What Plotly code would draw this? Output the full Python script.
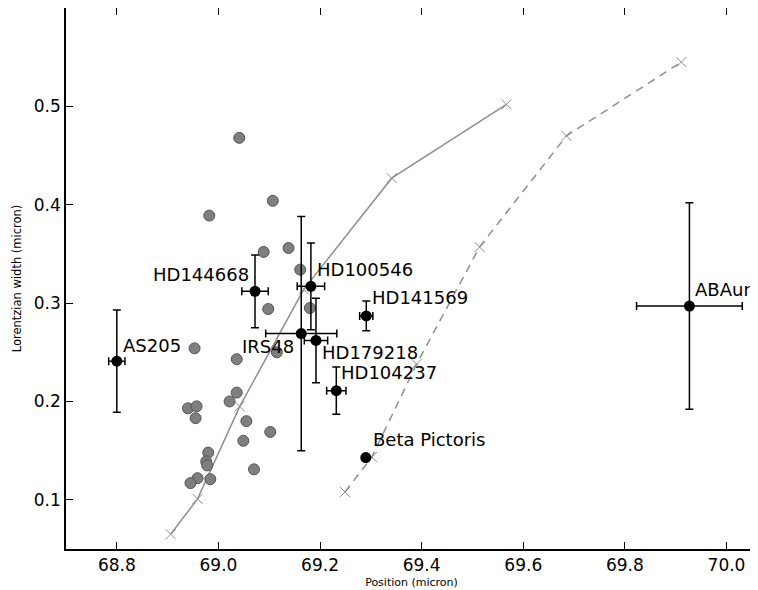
import plotly.graph_objects as go

# Grey comparison sample
grey_x = [69.041, 69.107, 68.982, 69.089, 69.138, 69.161, 69.098, 69.180, 68.953, 69.036,
          69.115, 69.036, 69.022, 68.940, 68.957, 68.955, 69.055, 69.102, 69.049, 68.980,
          68.976, 68.978, 69.070, 68.959, 68.984, 68.945]
grey_y = [0.468, 0.404, 0.389, 0.352, 0.356, 0.334, 0.294, 0.295, 0.254, 0.243,
          0.250, 0.209, 0.200, 0.193, 0.195, 0.183, 0.180, 0.169, 0.160, 0.148,
          0.139, 0.135, 0.131, 0.122, 0.121, 0.117]

# Named sources
names = ["AS205", "HD144668", "HD100546", "IRS48", "HD179218", "HD141569",
         "HD104237", "Beta Pictoris", "ABAur"]
src_x = [68.800, 69.072, 69.182, 69.163, 69.192, 69.291, 69.232, 69.290, 69.927]
src_y = [0.241, 0.312, 0.317, 0.269, 0.262, 0.287, 0.211, 0.143, 0.297]
src_xerr = [0.016, 0.026, 0.027, 0.070, 0.023, 0.013, 0.019, None, 0.104]
src_yerr = [0.052, 0.037, 0.044, 0.119, 0.043, 0.015, 0.024, None, 0.105]

# Model curves
solid_x = [68.906, 68.959, 69.042, 69.168, 69.341, 69.567]
solid_y = [0.065, 0.101, 0.195, 0.314, 0.427, 0.502]
dashed_x = [69.249, 69.302, 69.390, 69.514, 69.685, 69.911]
dashed_y = [0.108, 0.1435, 0.238, 0.357, 0.470, 0.545]

x_ticks = [68.8, 69.0, 69.2, 69.4, 69.6, 69.8, 70.0]
x_ticktext = ["68.8", "69.0", "69.2", "69.4", "69.6", "69.8", "70.0"]
y_ticks = [0.1, 0.2, 0.3, 0.4, 0.5]
y_ticktext = ["0.1", "0.2", "0.3", "0.4", "0.5"]

# label placement (anchor, xshift, yshift) - style only
label_style = {
    "AS205": ("left", 4, 16),
    "HD144668": ("right", -4, 17),
    "HD100546": ("left", 4, 17),
    "IRS48": ("right", -5, -13),
    "HD179218": ("left", 4, -12),
    "HD141569": ("left", 4, 18),
    "HD104237": ("left", 3, 18),
    "Beta Pictoris": ("left", 5, 18),
    "ABAur": ("left", 4, 17),
}

fig = go.Figure()

fig.add_trace(go.Scatter(
    x=solid_x, y=solid_y, mode="lines+markers",
    line=dict(color="#8f8f8f", width=1.5),
    marker=dict(symbol="x-thin-open", size=10, line=dict(color="#8f8f8f", width=1)),
    showlegend=False, hoverinfo="skip"))

fig.add_trace(go.Scatter(
    x=dashed_x, y=dashed_y, mode="lines+markers",
    line=dict(color="#8f8f8f", width=1.5, dash="8px,6px"),
    marker=dict(symbol="x-thin-open", size=10, line=dict(color="#8f8f8f", width=1)),
    showlegend=False, hoverinfo="skip"))

fig.add_trace(go.Scatter(
    x=grey_x, y=grey_y, mode="markers",
    marker=dict(size=11, color="#7f7f7f", line=dict(color="#555555", width=1)),
    showlegend=False))

ex, ey, exe, eye = [], [], [], []
bx, by = [], []
for n, x, y, xe, ye in zip(names, src_x, src_y, src_xerr, src_yerr):
    if xe is None:
        bx.append(x); by.append(y)
    else:
        ex.append(x); ey.append(y); exe.append(xe); eye.append(ye)

fig.add_trace(go.Scatter(
    x=ex, y=ey, mode="markers",
    marker=dict(size=11, color="black"),
    error_x=dict(type="data", array=exe, color="black", thickness=1.5, width=4),
    error_y=dict(type="data", array=eye, color="black", thickness=1.5, width=4),
    showlegend=False))
fig.add_trace(go.Scatter(
    x=bx, y=by, mode="markers",
    marker=dict(size=11, color="black"), showlegend=False))

for n, x, y in zip(names, src_x, src_y):
    anc, xs, ys = label_style[n]
    fig.add_annotation(x=x, y=y, text=n, showarrow=False, xanchor=anc, yanchor="middle",
                       xshift=xs, yshift=ys,
                       font=dict(family="DejaVu Sans", size=18, color="black"))

axis_common = dict(showline=True, linecolor="black", linewidth=1.5, mirror="ticks",
                   ticks="inside", ticklen=7, tickcolor="black", tickwidth=1,
                   showgrid=False, zeroline=False, automargin=False,
                   tickfont=dict(family="DejaVu Sans", size=17, color="black"))

fig.update_xaxes(range=[68.70, 70.06], tickvals=x_ticks, ticktext=x_ticktext,
                 title=dict(text="Position (micron)",
                            font=dict(family="DejaVu Sans", size=11, color="black"),
                            standoff=4),
                 **axis_common)
fig.update_yaxes(range=[0.05, 0.6], tickvals=y_ticks, ticktext=y_ticktext,
                 title=dict(text="Lorentzian width (micron)",
                            font=dict(family="DejaVu Sans", size=11.5, color="black"),
                            standoff=10),
                 **axis_common)

# page body adds an 8px offset, so the figure is sized to fit the 758x590 window
fig.update_layout(width=750, height=582, margin=dict(l=58, r=1, t=0, b=41),
                  plot_bgcolor="white", paper_bgcolor="white",
                  font=dict(family="DejaVu Sans"))

fig.write_html("out.html")
